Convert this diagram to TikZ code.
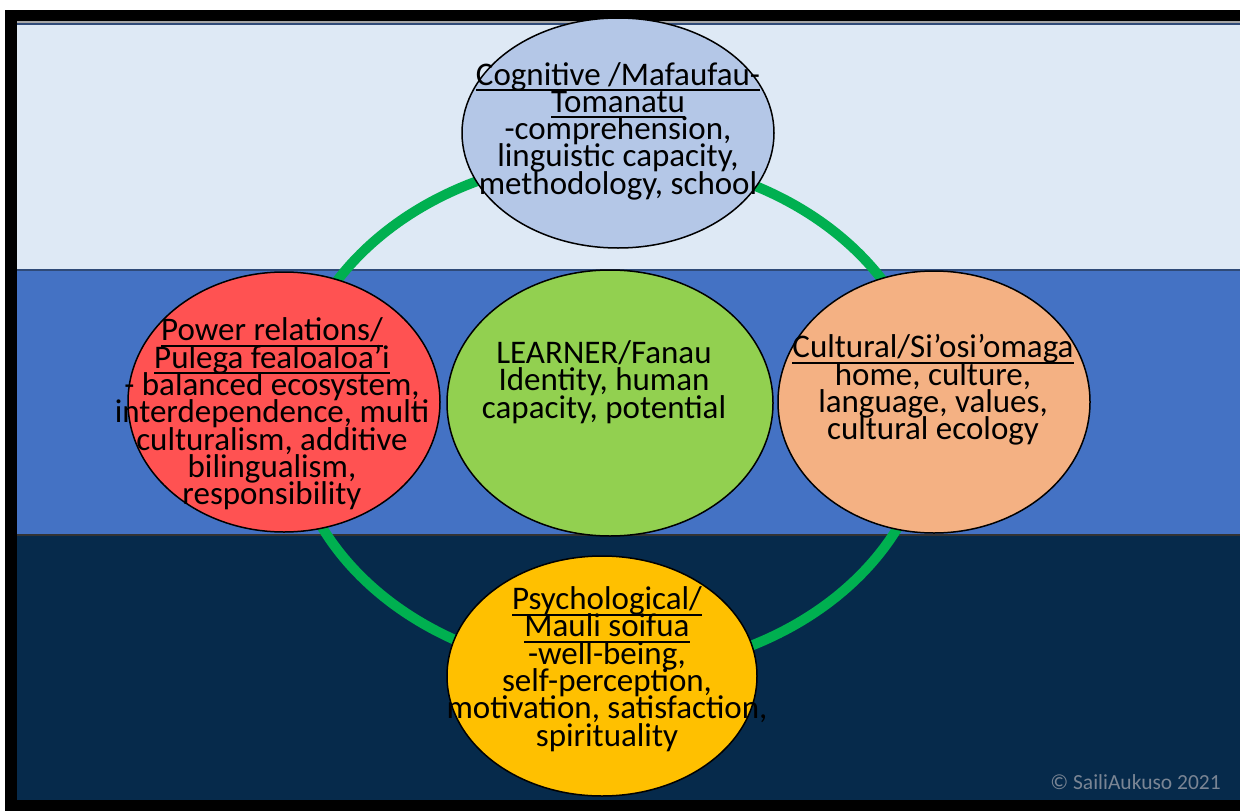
\documentclass[tikz,border=0pt]{standalone}
\usepackage{fontspec}
\setmainfont{Carlito}
\usetikzlibrary{shapes.geometric}
\definecolor{bandlight}{HTML}{DEE9F5}
\definecolor{bandmid}{HTML}{4472C4}
\definecolor{bandnavy}{HTML}{062A4B}
\definecolor{bandedge}{HTML}{2F4A78}
\definecolor{ringgreen}{HTML}{00B050}
\definecolor{cogfill}{HTML}{B4C7E7}
\definecolor{powfill}{HTML}{FF5252}
\definecolor{learnfill}{HTML}{92D050}
\definecolor{cultfill}{HTML}{F4B183}
\definecolor{psyfill}{HTML}{FFC000}
\definecolor{copygray}{HTML}{7A8594}
\newsavebox{\myulbox}
\newcommand{\myul}[1]{\sbox{\myulbox}{#1}\rlap{\rule[-6pt]{\wd\myulbox}{2pt}}\usebox{\myulbox}}
\newcommand{\tightls}{\lineskiplimit=-60pt\relax\lineskip=0pt\relax}
\tikzset{
  blob/.style={ellipse, draw=black, line width=1.5pt, inner sep=0pt},
  txt/.style={align=center, inner sep=0pt, font=\fontsize{33}{27.3}\selectfont\tightls},
  ring/.style={draw=ringgreen, line width=10pt}
}
\begin{document}
\begin{tikzpicture}[x=1pt,y=-1pt]
\useasboundingbox (0,0) rectangle (1240,811);
\fill[white] (0,0) rectangle (1240,811);
\fill[black] (5,10) rectangle (1240,811);
\fill[bandlight] (17,25) rectangle (1240,270);
\fill[gray!70] (17,21) rectangle (1240,23);
\fill[bandedge] (17,23) rectangle (1240,25);
\fill[bandmid] (17,270) rectangle (1240,535);
\fill[bandnavy] (17,535) rectangle (1240,800);
\draw[bandedge, line width=2pt] (17,270) -- (1240,270);
\draw[black!80, line width=2pt] (17,535) -- (1240,535);
% green ring
\coordinate (ringc) at (610,415);
\draw[ring] (ringc) ellipse [x radius=320pt, y radius=257pt];
% ellipses
\node[blob, fill=cogfill, minimum width=312pt, minimum height=230pt] (cog) at (618,133) {};
\node[blob, fill=powfill, minimum width=312pt, minimum height=260pt] (pow) at (284,402) {};
\node[blob, fill=learnfill, minimum width=326pt, minimum height=266pt] (learn) at (610,403) {};
\node[blob, fill=cultfill, minimum width=312pt, minimum height=262pt] (cult) at (934,402) {};
\node[blob, fill=psyfill, minimum width=310pt, minimum height=240pt] (psy) at (602,676) {};
% texts
\node[txt] (cogt) at (618,131) {\myul{Cognitive /Mafaufau-}\\\myul{Tomanatu}\\-comprehension,\\linguistic capacity,\\methodology, school};
\node[txt] (powt) at (272,414) {\myul{Power relations/}\\\myul{Pulega fealoaloa’i}\\- balanced ecosystem,\\interdependence, multi\\culturalism, additive\\bilingualism,\\responsibility};
\node[txt] (learnt) at (604,382) {LEARNER/Fanau\\Identity, human\\capacity, potential};
\node[txt] (cultt) at (933,390) {\myul{Cultural/Si’osi’omaga}\\home, culture,\\language, values,\\cultural ecology};
\node[txt] (psyt) at (607,669) {\myul{Psychological/}\\\myul{Mauli soifua}\\-well-being,\\self-perception,\\motivation, satisfaction,\\spirituality};
\node[anchor=east, inner sep=0pt, text=copygray, font=\fontsize{21.5}{22}\selectfont] (copy) at (1221,782) {© SailiAukuso 2021};
\end{tikzpicture}
\end{document}
